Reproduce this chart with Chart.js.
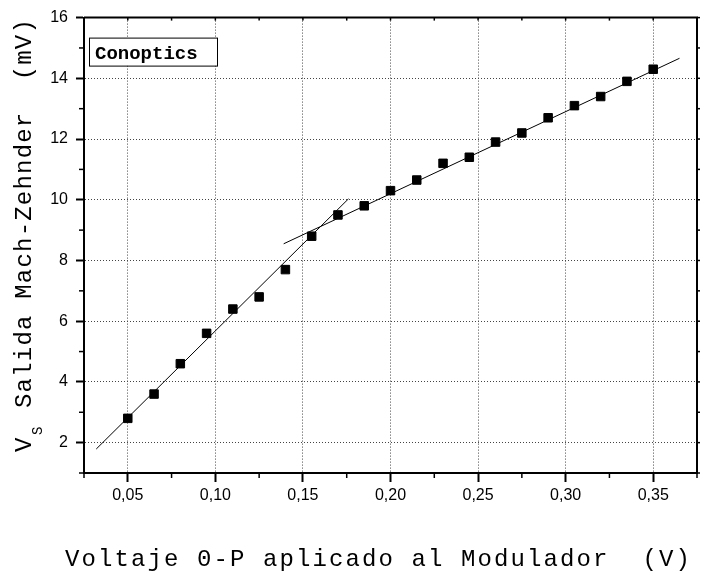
<!DOCTYPE html>
<html>
<head>
<meta charset="utf-8">
<script src="https://cdn.jsdelivr.net/npm/chart.js@4"></script>
<style>
  html, body { margin: 0; padding: 0; background: #fff; }
  #wrap { width: 722px; height: 573px; position: relative; }
</style>
</head>
<body>
<div id="wrap"><canvas id="mz"></canvas></div>
<script>
// modulator drive (V, 0-peak) vs. Mach-Zehnder output (mV)
const drive = [0.05, 0.065, 0.08, 0.095, 0.11, 0.125, 0.14, 0.155, 0.17, 0.185, 0.20,
  0.215, 0.23, 0.245, 0.26, 0.275, 0.29, 0.305, 0.32, 0.335, 0.35];
const output = [2.8, 3.6, 4.6, 5.6, 6.4, 6.8, 7.7, 8.8, 9.5, 9.8, 10.3,
  10.65, 11.2, 11.4, 11.9, 12.2, 12.7, 13.1, 13.4, 13.9, 14.3];

// linear fits: low-drive and high-drive regions (end points)
const fitLowX = [0.032, 0.176];
const fitLowY = [1.79, 10.03];
const fitHighX = [0.139, 0.365];
const fitHighY = [8.55, 14.66];

const seriesName = 'Conoptics';
const xTitle = 'Voltaje 0-P aplicado al Modulador  (V)';
const yTitle = ['V', 'S', 'Salida Mach-Zehnder  (mV)'];

const MONO = "'Courier New', 'Liberation Mono', monospace";
const SANS = "Arial, 'Liberation Sans', sans-serif";

const isMajorX = v => Math.round(v * 1000) % 50 === 0;
const isMajorY = v => Math.round(v) % 2 === 0;
const toPts = (xs, ys) => xs.map((x, i) => ({ x, y: ys[i] }));

function line(ctx, x1, y1, x2, y2) {
  ctx.beginPath(); ctx.moveTo(x1, y1); ctx.lineTo(x2, y2); ctx.stroke();
}

const decor = {
  id: 'decor',
  beforeDraw(chart) {
    const { ctx, width, height } = chart;
    ctx.save(); ctx.fillStyle = '#fff'; ctx.fillRect(0, 0, width, height); ctx.restore();
  },
  afterDraw(chart) {
    const { ctx, chartArea: a, scales: { x, y } } = chart;
    ctx.save();
    ctx.strokeStyle = '#000';

    // short minor ticks on bottom/left, small ticks on top/right
    ctx.lineWidth = 1.5;
    x.ticks.forEach(t => {
      const px = x.getPixelForValue(t.value);
      if (!isMajorX(t.value)) line(ctx, px, a.bottom, px, a.bottom + 5);
      line(ctx, px, a.top, px, a.top + 3);
    });
    y.ticks.forEach(t => {
      const py = y.getPixelForValue(t.value);
      if (!isMajorY(t.value)) line(ctx, a.left - 5, py, a.left, py);
      line(ctx, a.right, py, a.right + 3, py);
    });

    // top and right frame
    ctx.lineWidth = 2;
    ctx.beginPath();
    ctx.moveTo(a.left, a.top); ctx.lineTo(a.right, a.top); ctx.lineTo(a.right, a.bottom + 1);
    ctx.stroke();

    // legend box
    ctx.lineWidth = 1;
    ctx.fillStyle = '#fff';
    ctx.fillRect(a.left + 5, a.top + 20, 128, 28);
    ctx.strokeRect(a.left + 5.5, a.top + 20.5, 128, 28);
    ctx.fillStyle = '#000';
    ctx.font = 'bold 19px ' + MONO;
    ctx.textBaseline = 'alphabetic';
    ctx.textAlign = 'left';
    ctx.fillText(chart.data.datasets[0].label, a.left + 11, a.top + 41);

    // x title
    ctx.font = '24px ' + MONO;
    ctx.letterSpacing = '2.1px';
    ctx.fillText(xTitle, 65, 566);

    // y title with subscript
    ctx.translate(31, 452);
    ctx.rotate(-Math.PI / 2);
    ctx.letterSpacing = '0px';
    ctx.fillText(yTitle[0], 0, 0);
    ctx.font = '14px ' + MONO;
    ctx.fillText(yTitle[1], 17, 11);
    ctx.font = '24px ' + MONO;
    ctx.letterSpacing = '1.2px';
    ctx.fillText(yTitle[2], 44, 0);
    ctx.restore();
  }
};

const gridDash = [1, 2];

new Chart(document.getElementById('mz'), {
  type: 'scatter',
  data: {
    datasets: [
      {
        label: seriesName,
        data: toPts(drive, output),
        pointStyle: 'rect',
        pointRadius: 6,
        pointHoverRadius: 6,
        backgroundColor: '#000',
        borderColor: '#000',
        borderWidth: 1
      },
      {
        label: 'fit low',
        type: 'line',
        data: toPts(fitLowX, fitLowY),
        showLine: true,
        pointRadius: 0,
        borderColor: '#000',
        borderWidth: 1
      },
      {
        label: 'fit high',
        type: 'line',
        data: toPts(fitHighX, fitHighY),
        showLine: true,
        pointRadius: 0,
        borderColor: '#000',
        borderWidth: 1
      }
    ]
  },
  options: {
    responsive: true,
    maintainAspectRatio: false,
    animation: false,
    events: [],
    layout: { padding: { top: 16, right: 25, left: 0, bottom: 0 } },
    plugins: { legend: { display: false }, tooltip: { enabled: false } },
    scales: {
      x: {
        type: 'linear',
        min: 0.025, max: 0.375,
        afterFit: s => { s.height = 100; },
        ticks: {
          stepSize: 0.025,
          autoSkip: false,
          maxRotation: 0,
          padding: 4,
          color: '#000',
          font: { family: SANS, size: 16 },
          callback: v => isMajorX(v) ? v.toFixed(2).replace('.', ',') : ''
        },
        grid: {
          color: c => (c.tick && isMajorX(c.tick.value) && c.tick.value < 0.37) ? '#444' : 'rgba(0,0,0,0)',
          tickColor: c => (c.tick && isMajorX(c.tick.value)) ? '#000' : 'rgba(0,0,0,0)',
          tickLength: 9,
          tickWidth: 2,
          lineWidth: 1
        },
        border: { display: true, color: '#000', width: 2, dash: gridDash }
      },
      y: {
        type: 'linear',
        min: 1, max: 16,
        afterFit: s => { s.width = 84; },
        ticks: {
          stepSize: 1,
          autoSkip: false,
          padding: 8,
          color: '#000',
          font: { family: SANS, size: 16 },
          callback: v => isMajorY(v) ? String(v) : ''
        },
        grid: {
          color: c => (c.tick && isMajorY(c.tick.value) && c.tick.value < 16) ? '#444' : 'rgba(0,0,0,0)',
          tickColor: c => (c.tick && isMajorY(c.tick.value)) ? '#000' : 'rgba(0,0,0,0)',
          tickLength: 8,
          tickWidth: 2,
          lineWidth: 1
        },
        border: { display: true, color: '#000', width: 2, dash: gridDash }
      }
    }
  },
  plugins: [decor]
});
</script>
</body>
</html>
